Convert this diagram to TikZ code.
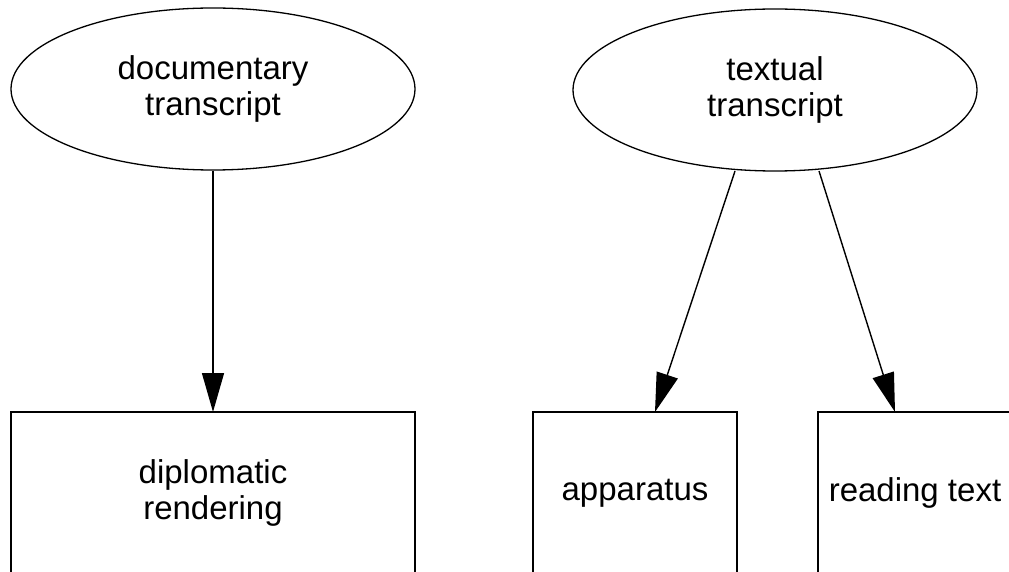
\documentclass[tikz,border=0pt]{standalone}
\usepackage{fontspec}
\setmainfont{Liberation Sans}
\usetikzlibrary{shapes.geometric,arrows.meta}
\begin{document}
\begin{tikzpicture}[x=1pt,y=-1pt,
  every node/.style={font=\fontsize{33}{36}\selectfont, align=center, inner sep=0pt},
  source/.style={ellipse, draw, line width=1.3pt, minimum width=404pt, minimum height=162pt},
  output/.style={rectangle, draw, line width=1.4pt, minimum height=162pt},
  link/.style={line width=1.4pt, -{Triangle[length=39pt,width=22pt]}}]
  \useasboundingbox (0,0) rectangle (1009,572);
  \fill[white] (0,0) rectangle (1009,572);

  % sources
  \node[source] (doc) at (213,89) {documentary\\transcript};
  \node[source] (txt) at (775,90) {textual\\transcript};

  % renderings (running off the lower edge)
  \node[output, minimum width=404pt] (dip) at (213,493) {diplomatic\\rendering};
  \node[output, minimum width=204pt] (app) at (635,493) {apparatus};
  \node[output, minimum width=194pt] (read) at (915,493) {reading text};

  % connectors
  \coordinate (dtip) at (213,412);
  \coordinate (atip) at (655,412);
  \coordinate (rtip) at (895,412);
  \coordinate (astart) at (735,171);
  \coordinate (rstart) at (819,171);
  \draw[link] (doc.south) -- (dtip);
  \draw[link] (astart) -- (atip);
  \draw[link] (rstart) -- (rtip);
\end{tikzpicture}
\end{document}
